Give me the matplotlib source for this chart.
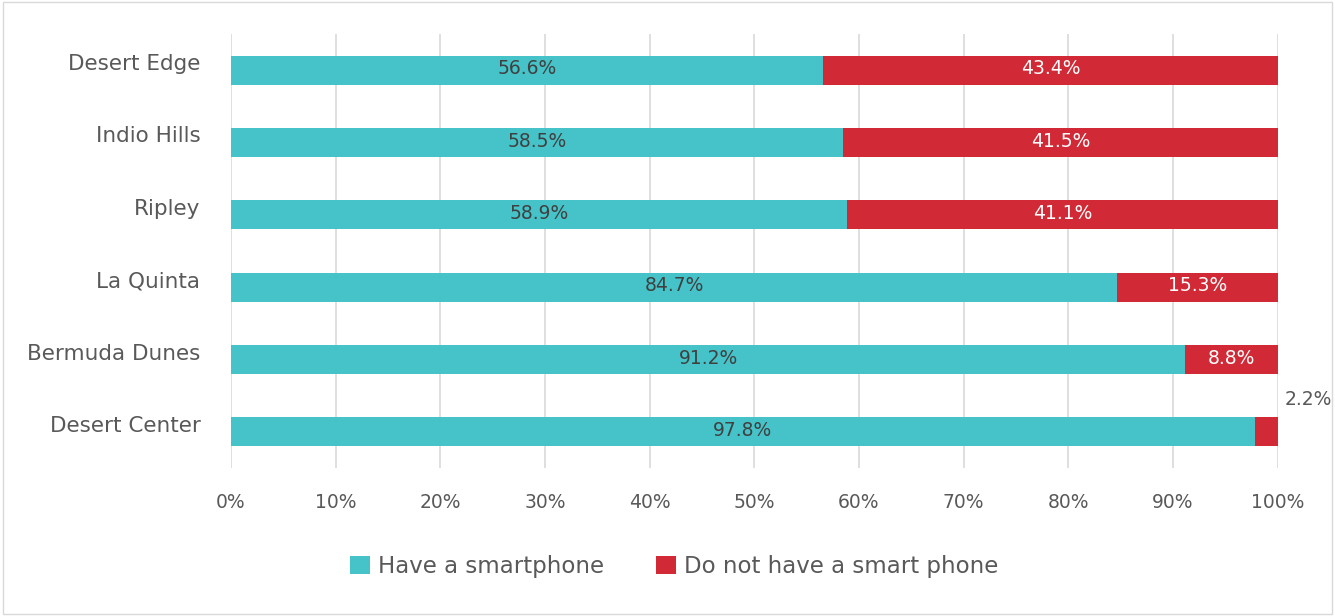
import matplotlib.pyplot as plt
import matplotlib.transforms as mtransforms
from matplotlib.patches import Rectangle

# Data (top to bottom as shown)
places = ['Desert Edge', 'Indio Hills', 'Ripley', 'La Quinta', 'Bermuda Dunes', 'Desert Center']
have = [56.6, 58.5, 58.9, 84.7, 91.2, 97.8]
have_not = [43.4, 41.5, 41.1, 15.3, 8.8, 2.2]
ticks = [0, 10, 20, 30, 40, 50, 60, 70, 80, 90, 100]

teal = '#45C3C9'
red = '#D12A36'
txt = '#595959'

plt.rcParams['font.family'] = ['DejaVu Sans']

fig = plt.figure(figsize=(13.35, 6.16), dpi=100)
ax = fig.add_axes([0.173, 0.240, 0.784, 0.705])

y = list(range(len(places)))[::-1]
ax.barh(y, have, height=0.4, color=teal, label='Have a smartphone')
ax.barh(y, have_not, left=have, height=0.4, color=red, label='Do not have a smart phone')

for yi, h, n in zip(y, have, have_not):
    ax.text(h / 2, yi + 0.02, f'{h:.1f}%', ha='center', va='center', fontsize=13.5, color='#404040')
    if n < 5:
        ax.text(h + n + 2.9, yi + 0.45, f'{n:.1f}%', ha='center', va='center', fontsize=13.5, color=txt)
    else:
        ax.text(h + n / 2, yi + 0.02, f'{n:.1f}%', ha='center', va='center', fontsize=13.5, color='white')

ax.set_xlim(0, 100)
ax.set_ylim(-0.5, 5.5)
ax.set_yticks(y)
ax.set_yticklabels(places, fontsize=15.5, color=txt)
ax.set_xticks(ticks)
ax.set_xticklabels([f'{t}%' for t in ticks], fontsize=13.5, color=txt)
ax.tick_params(length=0, axis='both')
ax.tick_params(axis='y', pad=22)
ax.tick_params(axis='x', pad=18)
ax.grid(axis='x', color='#D9D9D9', linewidth=1.2)
ax.set_axisbelow(True)
for s in ax.spines.values():
    s.set_visible(False)

# category labels sit a little above the bar centre
shift = mtransforms.ScaledTranslation(0, 8 / 100, fig.dpi_scale_trans)
for lab in ax.get_yticklabels():
    lab.set_transform(lab.get_transform() + shift)

fig.legend(loc='center', bbox_to_anchor=(0.505, 0.08), ncol=2, frameon=False,
           fontsize=16.5, labelcolor=txt, handlelength=0.85, handleheight=0.85,
           columnspacing=2.3, handletextpad=0.35)

fig.patches.append(Rectangle((0.002, 0.003), 0.996, 0.994, transform=fig.transFigure,
                             fill=False, edgecolor='#D9D9D9', linewidth=1))

fig.savefig('out.png', dpi=100)
